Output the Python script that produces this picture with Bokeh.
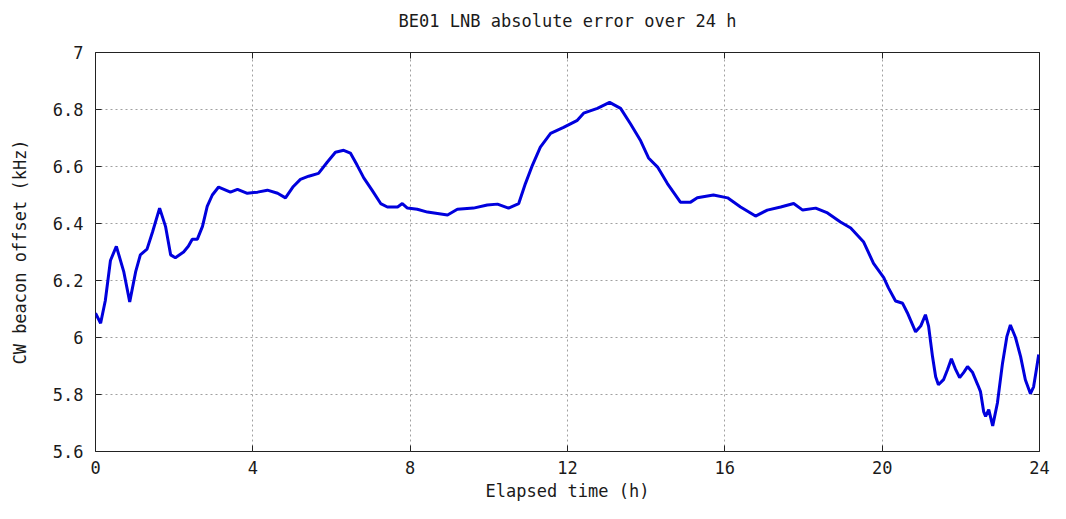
from bokeh.plotting import figure
from bokeh.models import Range1d, LinearAxis, FixedTicker, PrintfTickFormatter
from bokeh.embed import file_html
from bokeh.resources import INLINE

hours = [0.0, 0.13, 0.25, 0.38, 0.53, 0.72, 0.87, 1.02, 1.14, 1.31, 1.45, 1.63, 1.78, 1.91,
         2.03, 2.24, 2.36, 2.46, 2.59, 2.72, 2.84, 2.97, 3.13, 3.43, 3.61, 3.86, 4.12, 4.37,
         4.63, 4.83, 5.03, 5.21, 5.42, 5.67, 5.89, 6.10, 6.31, 6.48, 6.65, 6.82, 7.03, 7.25,
         7.42, 7.68, 7.80, 7.93, 8.18, 8.44, 8.95, 9.20, 9.61, 9.96, 10.22, 10.50, 10.76,
         10.93, 11.11, 11.31, 11.57, 11.90, 12.25, 12.41, 12.76, 13.07, 13.35, 13.60, 13.86,
         14.06, 14.29, 14.54, 14.87, 15.13, 15.30, 15.71, 16.07, 16.40, 16.78, 17.08, 17.42,
         17.75, 17.98, 18.31, 18.61, 18.94, 19.20, 19.53, 19.78, 20.04, 20.16, 20.34, 20.52,
         20.64, 20.85, 20.98, 21.10, 21.18, 21.28, 21.36, 21.43, 21.56, 21.66, 21.76, 21.87,
         21.97, 22.07, 22.17, 22.30, 22.43, 22.50, 22.58, 22.63, 22.71, 22.81, 22.93, 23.06,
         23.17, 23.26, 23.39, 23.52, 23.64, 23.77, 23.85, 23.92, 23.98]
offset_khz = [6.085, 6.05, 6.13, 6.27, 6.32, 6.23, 6.125, 6.23, 6.29, 6.31, 6.37, 6.454, 6.39, 6.29,
              6.28, 6.30, 6.32, 6.345, 6.345, 6.39, 6.46, 6.50, 6.528, 6.51, 6.52, 6.506, 6.51, 6.517,
              6.506, 6.49, 6.53, 6.555, 6.566, 6.576, 6.615, 6.65, 6.657, 6.647, 6.605, 6.56, 6.517, 6.47,
              6.458, 6.458, 6.47, 6.454, 6.45, 6.44, 6.43, 6.45, 6.454, 6.465, 6.468, 6.454, 6.47,
              6.54, 6.605, 6.668, 6.716, 6.737, 6.762, 6.787, 6.804, 6.825, 6.804, 6.75, 6.69,
              6.63, 6.598, 6.54, 6.475, 6.475, 6.49, 6.50, 6.49, 6.458, 6.426, 6.447, 6.458,
              6.47, 6.447, 6.454, 6.437, 6.405, 6.384, 6.335, 6.26, 6.21, 6.174, 6.128, 6.12,
              6.087, 6.02, 6.04, 6.08, 6.04, 5.933, 5.862, 5.834, 5.852, 5.887, 5.925, 5.887,
              5.859, 5.877, 5.898, 5.877, 5.834, 5.81, 5.74, 5.723, 5.747, 5.69, 5.77, 5.91,
              6.003, 6.044, 6.0, 5.933, 5.852, 5.803, 5.827, 5.887, 5.94]

x_ticks = [0, 4, 8, 12, 16, 20, 24]
y_ticks = [5.6, 5.8, 6.0, 6.2, 6.4, 6.6, 6.8, 7.0]
title_text = "BE01 LNB absolute error over 24 h"

FONT = "DejaVu Sans Mono"
FS = "17px"
TXT = "#1a1a1a"

p = figure(width=1050, height=503, output_backend="svg", toolbar_location=None,
           x_range=Range1d(0, 24), y_range=Range1d(5.6, 7.0),
           min_border_left=95, min_border_right=11, min_border_top=52, min_border_bottom=51)

p.outline_line_color = "#222222"
p.outline_line_width = 1
p.background_fill_color = "white"
p.border_fill_color = "white"

bottom = p.below[0]
left = p.left[0]

top = LinearAxis(ticker=FixedTicker(ticks=x_ticks), axis_line_color=None,
                 major_tick_in=6, major_tick_out=0, minor_tick_line_color=None,
                 major_label_text_font_size="0px", major_label_standoff=0,
                 major_tick_line_color="#222222")
right = LinearAxis(ticker=FixedTicker(ticks=y_ticks), axis_line_color=None,
                   major_tick_in=6, major_tick_out=0, minor_tick_line_color=None,
                   major_label_text_font_size="0px", major_label_standoff=0,
                   major_tick_line_color="#222222")
p.add_layout(top, "above")
p.add_layout(right, "right")

for ax in (bottom, left, top):
    ax.axis_label_text_font = FONT
    ax.axis_label_text_font_size = FS
    ax.axis_label_text_font_style = "normal"
    ax.axis_label_text_color = TXT

for ax in (bottom, left):
    ax.axis_line_color = None
    ax.major_tick_in = 6
    ax.major_tick_out = 0
    ax.minor_tick_line_color = None
    ax.major_tick_line_color = "#222222"
    ax.major_label_text_font = FONT
    ax.major_label_text_font_size = FS
    ax.major_label_text_color = TXT

top.axis_label = title_text
top.axis_label_standoff = 22

bottom.ticker = FixedTicker(ticks=x_ticks)
left.ticker = FixedTicker(ticks=y_ticks)
bottom.formatter = PrintfTickFormatter(format="%g")
left.formatter = PrintfTickFormatter(format="%g")
bottom.axis_label = "Elapsed time (h)"
left.axis_label = "CW beacon offset (kHz)"
bottom.major_label_standoff = 9
left.major_label_standoff = 12
bottom.axis_label_standoff = 4
left.axis_label_standoff = 20

p.xgrid.ticker = FixedTicker(ticks=x_ticks)
p.ygrid.ticker = FixedTicker(ticks=y_ticks)
for g in (p.xgrid[0], p.ygrid[0]):
    g.grid_line_color = "#a0a0a0"
    g.grid_line_dash = "2 3"
    g.grid_line_width = 1

p.line(hours, offset_khz, line_color="#0000dd", line_width=3)

open("out.html", "w").write(file_html(p, INLINE))
